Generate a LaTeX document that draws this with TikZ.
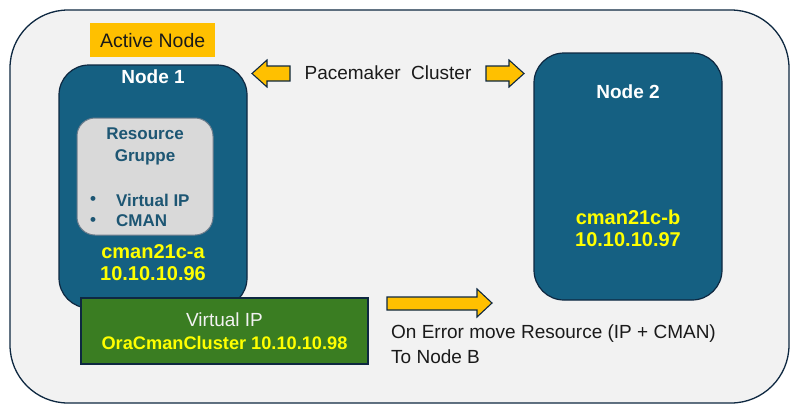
\documentclass[tikz,border=0pt]{standalone}
\usepackage{fontspec}
\setmainfont{Liberation Sans}
\definecolor{bgray}{HTML}{F2F2F2}
\definecolor{nblue}{HTML}{156082}
\definecolor{ndark}{HTML}{0E2841}
\definecolor{rgray}{HTML}{D9D9D9}
\definecolor{rtext}{HTML}{1D5673}
\definecolor{vgreen}{HTML}{3A7D22}
\definecolor{aorange}{HTML}{FFC000}
\definecolor{ytext}{HTML}{FFFF00}
\definecolor{ttext}{HTML}{1A1A1A}
\newcommand{\fs}[1]{\fontsize{#1}{#1}\selectfont}
\tikzset{
  nodebox/.style={draw=ndark, line width=1.2pt, fill=nblue, rounded corners=30pt},
  resbox/.style={draw=ndark!60, line width=1pt, fill=rgray, rounded corners=18pt},
  blockarrow/.style={draw=ndark, line width=1.1pt, fill=aorange, line join=miter},
  ylab/.style={text=ytext, font=\fs{20}\bfseries, inner sep=0pt},
  wlab/.style={text=white, font=\fs{19}\bfseries, inner sep=0pt},
  rlab/.style={text=rtext, font=\fs{17}\bfseries, inner sep=0pt},
  plab/.style={text=ttext, font=\fs{19}, inner sep=0pt},
}
\begin{document}
\begin{tikzpicture}[x=1pt,y=-1pt]
\useasboundingbox (0,0) rectangle (800,416);
\fill[white] (0,0) rectangle (800,416);
% outer frame
\draw[draw=ndark, line width=1.3pt, fill=bgray, rounded corners=58pt] (10,10) rectangle (789,403);
% active node label
\node[fill=aorange, minimum width=125pt, minimum height=34pt, inner sep=0pt, anchor=north west, text=ttext, font=\fs{19.5}] (active) at (90,23) {Active Node};
% Node 1
\draw[nodebox] (59,65) rectangle (247,308);
\node[wlab] (n1title) at (153,77) {Node 1};
\draw[resbox] (77,118) rectangle (213,235);
\node[rlab] (res1) at (145,134) {Resource};
\node[rlab] (res2) at (145,157) {Gruppe};
\node[rlab] (b1) at (93,200) {•};
\node[rlab, anchor=west] (vipitem) at (116,200) {Virtual IP};
\node[rlab] (b2) at (93,221) {•};
\node[rlab, anchor=west] (cmanitem) at (116,221) {CMAN};
\node[ylab] (hosta) at (153,252) {cman21c-a};
\node[ylab] (ipa) at (153,274) {10.10.10.96};
% Node 2
\draw[nodebox] (534,53) rectangle (722,300);
\node[wlab] (n2title) at (628,92) {Node 2};
\node[ylab] (hostb) at (628,217) {cman21c-b};
\node[ylab] (ipb) at (628,240) {10.10.10.97};
% Virtual IP box
\draw[draw=ndark, line width=1.2pt, fill=vgreen] (81,298) rectangle (368,364);
\node[text=bgray, font=\fs{19}, inner sep=0pt] (viptitle) at (224.5,320) {Virtual IP};
\node[text=ytext, font=\fs{18.2}\bfseries, inner sep=0pt] (vipaddr) at (224.5,343) {OraCmanCluster 10.10.10.98};
% Pacemaker cluster arrows
\node[plab] (pace) at (388,73) {Pacemaker\ \ Cluster};
\draw[blockarrow] (252,73.5) -- (267,60) -- (267,66) -- (290,66) -- (290,81) -- (267,81) -- (267,87) -- cycle;
\draw[blockarrow] (524,73.5) -- (509,60) -- (509,66) -- (486,66) -- (486,81) -- (509,81) -- (509,87) -- cycle;
% failover arrow
\draw[blockarrow] (492,303) -- (477,289) -- (477,297) -- (387,297) -- (387,310) -- (477,310) -- (477,317) -- cycle;
\node[plab, anchor=west] (err1) at (391,334) {On Error move Resource (IP + CMAN)};
\node[plab, anchor=west] (err2) at (391,357) {To Node B};
\end{tikzpicture}
\end{document}
